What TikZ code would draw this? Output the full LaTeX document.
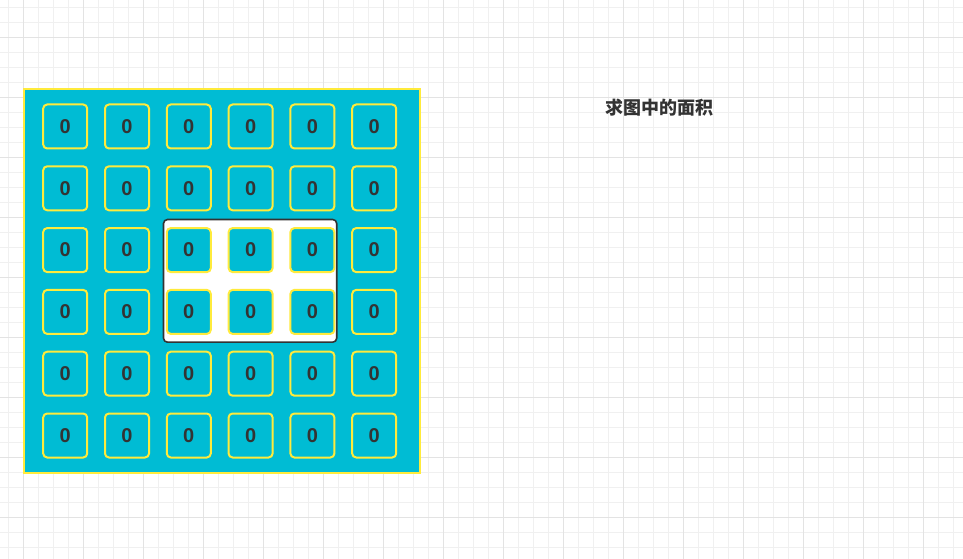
\documentclass[tikz,border=0pt]{standalone}
\usepackage{fontspec}
\setmainfont{Liberation Sans}
\newfontfamily\cjk{Noto Sans CJK SC}
\definecolor{cyanfill}{HTML}{00BCD4}
\definecolor{cellline}{HTML}{FFEB3B}
\definecolor{ink}{HTML}{333333}
\definecolor{gridminor}{HTML}{F0F0F0}
\definecolor{gridmajor}{HTML}{E3E3E3}

\begin{document}
\begin{tikzpicture}[x=0.75pt, y=-0.75pt,
    cell/.style={draw=cellline, fill=cyanfill, line width=1.5pt, rounded corners=3pt, minimum size=33pt, inner sep=0pt, text=ink, font=\bfseries\fontsize{15}{17}\selectfont},
    board/.style={draw=cellline, fill=cyanfill, line width=1.5pt},
    hole/.style={draw=ink, fill=white, line width=1.2pt, rounded corners=3pt},
    title/.style={text=ink, font=\cjk\bfseries\fontsize{13.5}{16}\selectfont}]
        \useasboundingbox (0,0) rectangle (963,559);
        % Background grid
        \foreach \k in {0,...,63} \draw[gridminor, line width=0.75pt] (8.3+15*\k,0) -- (8.3+15*\k,559);
        \foreach \k in {0,...,37} \draw[gridminor, line width=0.75pt] (0,7.3+15*\k) -- (963,7.3+15*\k);
        \foreach \k in {0,...,15} \draw[gridmajor, line width=0.75pt] (23.3+60*\k,0) -- (23.3+60*\k,559);
        \foreach \k in {0,...,8} \draw[gridmajor, line width=0.75pt] (0,37.3+60*\k) -- (963,37.3+60*\k);

        % Board and hole
        \draw[board] (24.3,89) rectangle (419.5,472.5);
        \draw[hole] (163.5,219.5) rectangle (336.7,342.2);

        % Cells
        \foreach \i in {1,...,6}
            \foreach \j in {1,...,6}
                \node[cell] (c-\i-\j) at (65.2+61.8*\i-61.8, 126.5+61.8*\j-61.8) {0};

        % Title
        \node[title] (title) at (659,107.5) {求图中的面积};
    \end{tikzpicture}
\end{document}
